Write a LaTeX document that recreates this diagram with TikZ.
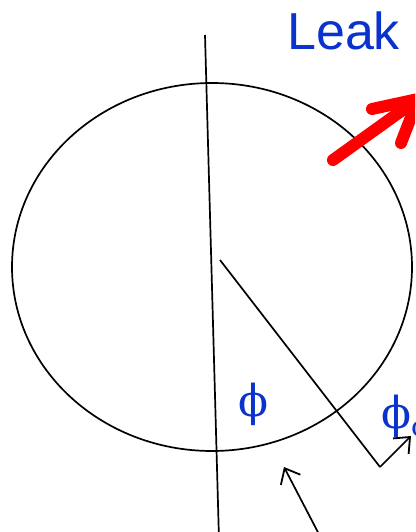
\documentclass[tikz,border=0pt]{standalone}
\usepackage{fontspec}
\setmainfont{Liberation Serif}
\newfontfamily\leakfont{Liberation Sans}
\newfontfamily\phifont{DejaVu Serif}
\usetikzlibrary{arrows.meta}
\definecolor{labelblue}{RGB}{10,50,205}
\tikzset{
  thin line/.style={line width=1.7pt, black},
  lbl/.style={text=labelblue, inner sep=0pt},
  pointer/.style={thin line, -{Straight Barb[length=13pt,width=22pt,line width=1.8pt]}},
}
\begin{document}
\begin{tikzpicture}[x=1pt,y=-1pt]
\useasboundingbox (0,0) rectangle (415,532);
\clip (0,0) rectangle (415,532);
\fill[white] (0,0) rectangle (415,532);
% circle
\draw[thin line] (212,267) ellipse [x radius=200, y radius=184];
% vertical axis
\coordinate (vtop) at (205,35);
\coordinate (vbot) at (219,540);
\draw[thin line] (vtop) -- (vbot);
% radius line and arrow
\coordinate (center) at (220,260);
\coordinate (corner) at (380,467);
\coordinate (ctip) at (411,436);
\draw[thin line] (center) -- (corner);
\draw[pointer] (corner) -- (ctip);
% lower pointer
\coordinate (ptail) at (322,540);
\coordinate (ptip) at (284,467);
\draw[pointer] (ptail) -- (ptip);
% labels
\node[lbl, font=\phifont\fontsize{44}{44}\selectfont] (phi) at (253,404) {ϕ};
\node[lbl, font=\phifont\fontsize{44}{44}\selectfont, anchor=west] (phic) at (381,416) {ϕ\raisebox{-8pt}{\fontsize{28}{28}\selectfont c}};
\node[lbl, font=\leakfont\fontsize{52}{52}\selectfont, anchor=base west] (leak) at (287,50) {Leak};
% red arrow
\coordinate (rtail) at (333,160);
\coordinate (rtip) at (418,99);
\draw[red, line width=12pt, line cap=round, line join=round] (rtail) -- (rtip);
\draw[red, line width=12pt, line cap=round, line join=round] (372,109) -- (rtip) -- (401,143);
\end{tikzpicture}
\end{document}
